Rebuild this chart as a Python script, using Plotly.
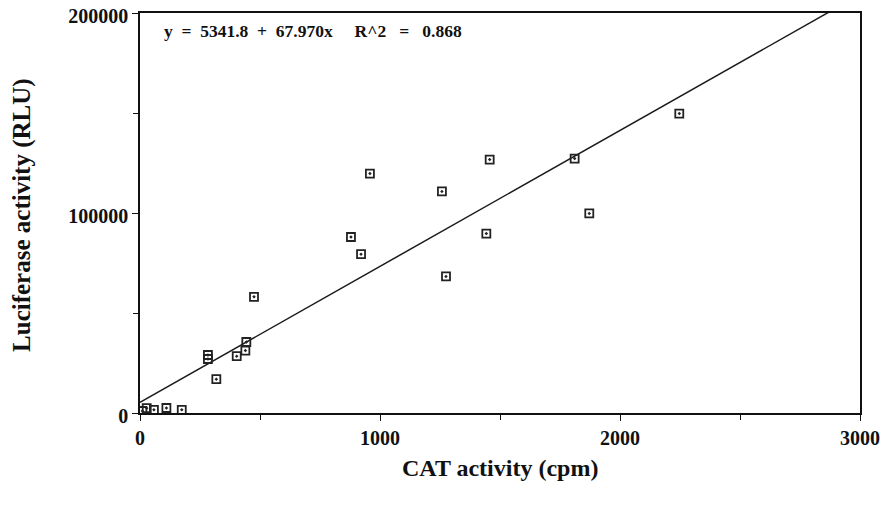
import plotly.graph_objects as go

cat_cpm = [10, 28, 58, 110, 174, 283, 283, 318, 403, 439, 443, 475,
           879, 921, 958, 1258, 1275, 1443, 1457, 1811, 1872, 2247]
luc_rlu = [1000, 2400, 1600, 2500, 1600, 29000, 27000, 16900, 28400, 31200, 35500, 58100,
           88000, 79400, 119700, 110800, 68300, 89700, 126700, 127200, 99800, 149700]

intercept = 5341.8
slope = 67.970
fit_x = [0, 3000]
fit_y = [intercept + slope * v for v in fit_x]

font_family = "Liberation Serif, Times New Roman, serif"

fig = go.Figure()
fig.add_trace(go.Scatter(x=fit_x, y=fit_y, mode="lines",
                         line=dict(color="#1a1a1a", width=1.5), cliponaxis=True,
                         showlegend=False, hoverinfo="skip"))
fig.add_trace(go.Scatter(x=cat_cpm, y=luc_rlu, mode="markers",
                         marker=dict(symbol="square-open-dot", size=8, color="#222",
                                     line=dict(width=1.8, color="#222")),
                         showlegend=False))

sp = "&nbsp;"
eq_text = ("<b>y" + sp * 2 + "=" + sp * 2 + "5341.8" + sp * 2 + "+" + sp * 2 + "67.970x"
           + sp * 5 + "R^2" + sp * 3 + "=" + sp * 3 + "0.868</b>")
fig.add_annotation(x=0.031, y=0.955, xref="paper", yref="paper", xanchor="left", yanchor="middle",
                   text=eq_text, showarrow=False,
                   font=dict(family=font_family, size=17.5, color="#111"))

fig.add_annotation(x=0.5, y=-0.1375, xref="paper", yref="paper", xanchor="center", yanchor="middle",
                   text="<b>CAT activity (cpm)</b>", showarrow=False,
                   font=dict(family=font_family, size=24, color="#111"))
fig.add_annotation(x=-0.164, y=0.495, xref="paper", yref="paper", xanchor="center", yanchor="middle",
                   text="<b>Luciferase activity (RLU)</b>", showarrow=False, textangle=-90,
                   font=dict(family=font_family, size=25, color="#111"))

axis_common = dict(showline=True, linecolor="#111", linewidth=1.5, mirror=True,
                   ticks="outside", ticklen=6, tickcolor="#111", tickwidth=1.2,
                   showgrid=False, zeroline=False, automargin=False,
                   ticklabeloverflow="allow",
                   tickfont=dict(family=font_family, size=20, color="#111", weight="bold"))

fig.update_xaxes(range=[0, 3000], tickvals=[0, 1000, 2000, 3000],
                 minor=dict(tickvals=[500, 1500, 2500], ticks="outside", ticklen=5, tickcolor="#111"),
                 **axis_common)
fig.update_yaxes(range=[0, 200000], tickvals=[0, 100000, 200000], tickformat="d",
                 ticklabelshift=3,
                 minor=dict(tickvals=[50000, 150000], ticks="outside", ticklen=5, tickcolor="#111"),
                 **axis_common)

fig.update_layout(width=884, height=508, margin=dict(l=140, r=24, t=13, b=95),
                  plot_bgcolor="white", paper_bgcolor="white")

fig.write_html("out.html", config={"displayModeBar": False},
               post_script="document.body.style.margin='0';document.body.style.overflow='hidden';")
